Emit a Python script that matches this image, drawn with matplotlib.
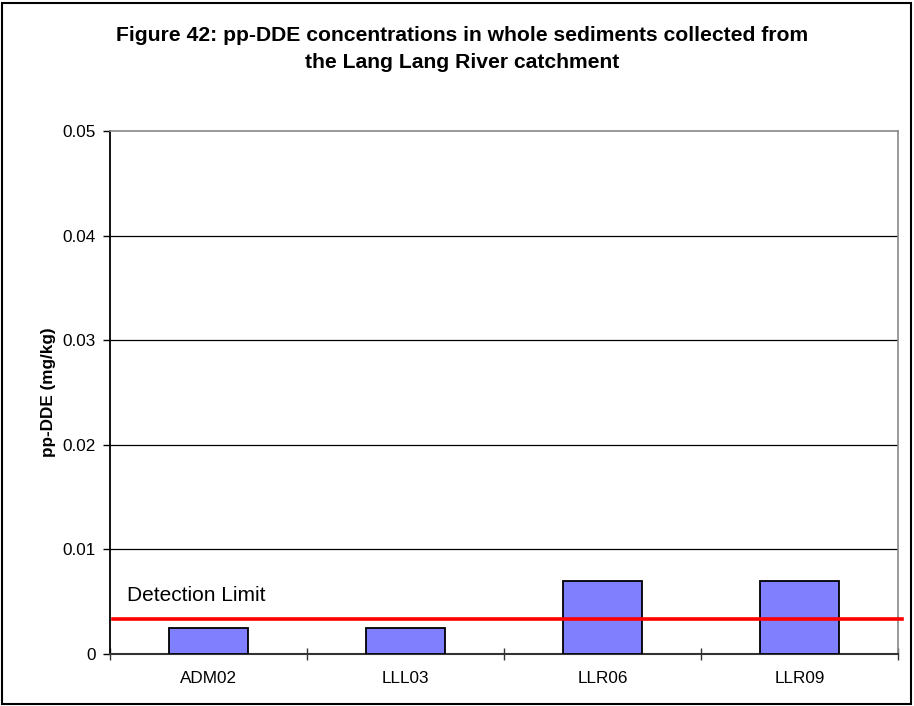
import matplotlib
matplotlib.use("Agg")
import matplotlib.pyplot as plt
from matplotlib.patches import Rectangle
from matplotlib.transforms import blended_transform_factory

# Sampling sites and measured pp-DDE concentrations (mg/kg)
sites = ["ADM02", "LLL03", "LLR06", "LLR09"]
pp_dde = [0.0025, 0.0025, 0.007, 0.007]
detection_limit = 0.0033
y_ticks = [0, 0.01, 0.02, 0.03, 0.04, 0.05]
y_tick_labels = ["0", "0.01", "0.02", "0.03", "0.04", "0.05"]

plt.rcParams["font.family"] = ["Liberation Sans", "DejaVu Sans"]

fig = plt.figure(figsize=(9.14, 7.06), dpi=100)
ax = fig.add_axes([110 / 914, 1 - 654 / 706, 788 / 914, 523 / 706])

x = list(range(len(sites)))
ax.bar(x, pp_dde, width=0.406, color="#8080FF", edgecolor="black",
       linewidth=1.3, zorder=3)

ax.set_xlim(-0.5, len(sites) - 0.5)
ax.set_ylim(0, 0.05)

# Horizontal gridlines
for v in y_ticks[1:-1]:
    ax.axhline(v, color="black", linewidth=0.9, zorder=1)

# Category boundaries carry the tick marks; labels sit at bar centres
ax.set_xticks([i - 0.5 for i in range(len(sites) + 1)])
ax.set_xticklabels([])
ax.set_xticks(x, minor=True)
ax.set_xticklabels(sites, minor=True, fontsize=12.3)
ax.tick_params(axis="x", which="major", direction="inout", length=8,
               width=1, color="#333333")
ax.tick_params(axis="x", which="minor", length=0, pad=12.5)

ax.set_yticks(y_ticks)
ax.set_yticklabels(y_tick_labels, fontsize=12.3)
ax.tick_params(axis="y", direction="out", length=5, width=1, pad=5)

for side in ("top", "right"):
    ax.spines[side].set_color("#888888")
    ax.spines[side].set_linewidth(1.2)
ax.spines["left"].set_color("black")
ax.spines["left"].set_linewidth(1.3)
ax.spines["bottom"].set_color("#333333")
ax.spines["bottom"].set_linewidth(1.5)

# Detection limit line, running slightly past the plot area on the right
trans = blended_transform_factory(ax.transAxes, ax.transData)
ax.plot([0.004, 1.005], [detection_limit, detection_limit], color="#FF0000",
        linewidth=2.6, transform=trans, clip_on=False, zorder=4)
ax.text(0.021, 0.00555, "Detection Limit", transform=trans, fontsize=15,
        va="center", ha="left", zorder=5)

ax.set_ylabel("pp-DDE (mg/kg)", fontsize=12.3, fontweight="bold", labelpad=5)

fig.text(462 / 914, 1 - 49 / 706,
         "Figure 42: pp-DDE concentrations in whole sediments collected from\n"
         "the Lang Lang River catchment",
         ha="center", va="center", fontsize=15.2, fontweight="bold",
         linespacing=1.5)

# Outer chart border
fig.patches.append(Rectangle((2 / 914, 2 / 706), 909 / 914, 701 / 706,
                             transform=fig.transFigure, fill=False,
                             edgecolor="black", linewidth=1.5))

fig.savefig("out.png", dpi=100)
